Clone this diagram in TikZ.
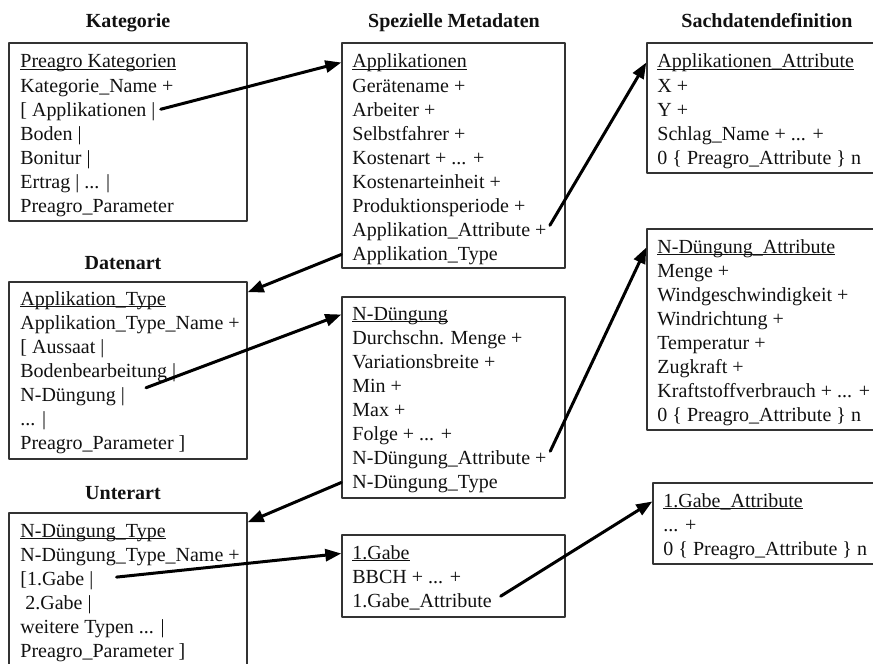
\documentclass[tikz,border=0pt]{standalone}
\usepackage{fontspec}
\setmainfont{Liberation Serif}
\usepackage{tikz}
\usetikzlibrary{arrows.meta,positioning,calc,fit}
\definecolor{framegray}{HTML}{333333}
\definecolor{ink}{HTML}{111111}
\newcommand{\pkte}{...}
\newcommand{\unterstr}[1]{\setbox0\hbox{#1}\rlap{\rule[-1.1pt]{\wd0}{0.5pt}}\box0}
\tikzset{
    every picture/.style={line cap=round,line join=round},
    boxframe/.style={draw=framegray,line width=0.7pt,inner sep=0pt},
    boxline/.style={anchor=base west,inner sep=0pt,text height=8pt,text depth=2.5pt,
      text=ink,font=\fontsize{10}{12}\selectfont},
    heading/.style={anchor=base,inner sep=0pt,text=ink,
      font=\fontsize{10}{12}\selectfont\bfseries},
    linkarrow/.style={-{Triangle[length=8pt,width=6pt]},draw=black,line width=1.5pt}
}
\begin{document}
\begin{tikzpicture}[x=0.5pt,y=-0.5pt]
    \useasboundingbox (0,0) rectangle (873,664);
    % headings
    \node[heading] (hkat) at (128,27) {Kategorie};
    \node[heading] (hmeta) at (454,27) {Spezielle Metadaten};
    \node[heading] (hsach) at (767,27) {Sachdatendefinition};
    \node[heading] (hdat) at (123,269) {Datenart};
    \node[heading] (hunter) at (123,499) {Unterart};
    % frames
    \node[boxframe,fit={(9,43)(247,221)}] (kat) {};
    \node[boxframe,fit={(342,43)(565,268)}] (app) {};
    \node[boxframe,fit={(647,43)(889,173)}] (appattr) {};
    \node[boxframe,fit={(9,282)(247,459)}] (dat) {};
    \node[boxframe,fit={(342,297)(565,498)}] (nd) {};
    \node[boxframe,fit={(647,229)(889,430)}] (ndattr) {};
    \node[boxframe,fit={(9,513)(247,672)}] (ndt) {};
    \node[boxframe,fit={(342,535)(565,617)}] (gabe) {};
    \node[boxframe,fit={(653,483)(895,564)}] (gabeattr) {};
    % lines of text (\pkte, since foreach reads ... as a range)
    \foreach \txt [count=\i] in {\unterstr{Preagro Kategorien},Kategorie\_Name +,
        [ Applikationen |,Boden |,Bonitur |,Ertrag | \pkte{} |,Preagro\_Parameter}
        \node[boxline] (kat\i) at (20,{68+24*(\i-1)}) {\txt};
    \foreach \txt [count=\i] in {\unterstr{Applikationen},Gerätename +,Arbeiter +,
        Selbstfahrer +,Kostenart + \pkte{} +,Kostenarteinheit +,Produktionsperiode +,
        Applikation\_Attribute +,Applikation\_Type}
        \node[boxline] (app\i) at (352,{68+24*(\i-1)}) {\txt};
    \foreach \txt [count=\i] in {\unterstr{Applikationen\_Attribute},X +,Y +,
        Schlag\_Name + \pkte{} +,0 \{ Preagro\_Attribute \} n}
        \node[boxline] (appattr\i) at (657,{68+24*(\i-1)}) {\txt};
    \foreach \txt [count=\i] in {\unterstr{Applikation\_Type},Applikation\_Type\_Name +,
        [ Aussaat |,Bodenbearbeitung |,N-Düngung |,\pkte{} |,Preagro\_Parameter ]}
        \node[boxline] (dat\i) at (20,{305+24*(\i-1)}) {\txt};
    \foreach \txt [count=\i] in {\unterstr{N-Düngung},Durchschn. Menge +,
        Variationsbreite +,Min +,Max +,Folge + \pkte{} +,N-Düngung\_Attribute +,N-Düngung\_Type}
        \node[boxline] (nd\i) at (352,{320+24*(\i-1)}) {\txt};
    \foreach \txt [count=\i] in {\unterstr{N-Düngung\_Attribute},Menge +,
        Windgeschwindigkeit +,Windrichtung +,Temperatur +,Zugkraft +,
        Kraftstoffverbrauch + \pkte{} +,0 \{ Preagro\_Attribute \} n}
        \node[boxline] (ndattr\i) at (657,{253+24*(\i-1)}) {\txt};
    \foreach \txt [count=\i] in {\unterstr{N-Düngung\_Type},N-Düngung\_Type\_Name +,
        [1.Gabe |,\ 2.Gabe |,weitere Typen \pkte{} |,Preagro\_Parameter ]}
        \node[boxline] (ndt\i) at (20,{537+24*(\i-1)}) {\txt};
    \foreach \txt [count=\i] in {\unterstr{1.Gabe},BBCH + \pkte{} +,1.Gabe\_Attribute}
        \node[boxline] (gabe\i) at (352,{559+24*(\i-1)}) {\txt};
    \foreach \txt [count=\i] in {\unterstr{1.Gabe\_Attribute},\pkte{} +,
        0 \{ Preagro\_Attribute \} n}
        \node[boxline] (gabeattr\i) at (663,{507+24*(\i-1)}) {\txt};
    % links
    \foreach \s/\z/\g in {kat3/app/2.5pt,app8/appattr/3pt,dat5/nd/11pt,
        nd7/ndattr/4pt,ndt3/gabe/11.5pt,gabe3/gabeattr/5pt}
        \draw[linkarrow,shorten <=\g] (\s.east) -- (\z.west |- \z1);
    \draw[linkarrow] (app.west |- app9) -- ([yshift=-5.5pt]dat.north east);
    \draw[linkarrow] (nd.west |- nd8) -- ([yshift=-5pt]ndt.north east);
\end{tikzpicture}
\end{document}
